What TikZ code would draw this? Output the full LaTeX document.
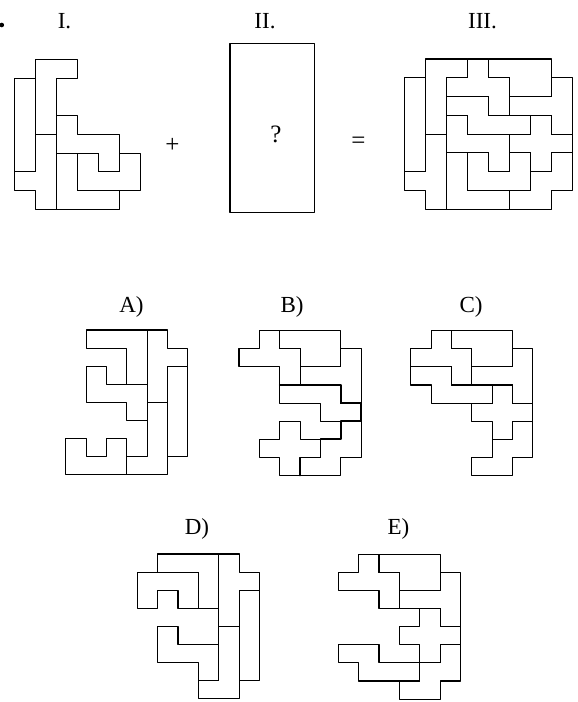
\documentclass[tikz,border=0pt]{standalone}
\usepackage{fontspec}
\setmainfont{Liberation Serif}

\begin{document}
\begin{tikzpicture}[
  x=1pt,
  y=-1pt,
  line cap=round,
  line join=round,
  piece/.style={draw, line width=1.1pt},
  heavy/.style={draw, line width=1.8pt},
  caption/.style={font=\fontsize{23}{27}\selectfont, anchor=base, inner sep=0pt},
  sign/.style={font=\fontsize{25}{29}\selectfont, inner sep=0pt}
]
  % Размеры клеток: верхний ряд и варианты ответа
  \def\cw{21}
  \def\ch{18.77}
  \def\ow{20.35}
  \def\oh{18.1}

  \useasboundingbox (0,0) rectangle (578,702);

  % Шесть фигур первой части
  \def\partsI{%
    \draw[piece] (0,1) -- (1,1) -- (1,6) -- (0,6) -- cycle;
    \draw[piece] (1,0) -- (3,0) -- (3,1) -- (2,1) -- (2,4) -- (1,4) -- cycle;
    \draw[piece] (1,4) -- (2,4) -- (2,8) -- (1,8) -- (1,7) -- (0,7) -- (0,6) -- (1,6) -- cycle;
    \draw[piece] (2,3) -- (3,3) -- (3,4) -- (5,4) -- (5,6) -- (4,6) -- (4,5) -- (2,5) -- cycle;
    \draw[piece] (3,5) -- (4,5) -- (4,6) -- (5,6) -- (5,5) -- (6,5) -- (6,7) -- (3,7) -- cycle;
    \draw[piece] (2,5) -- (3,5) -- (3,7) -- (5,7) -- (5,8) -- (2,8) -- cycle;}

  % Фигуры вариантов, в клетках варианта
  \def\partF{\draw[piece] (1,0) -- (2,0) -- (2,1) -- (3,1) -- (3,3) -- (2,3) -- (2,2) -- (0,2) -- (0,1) -- (1,1) -- cycle;}
  \def\partP{\draw[piece] (2,0) -- (5,0) -- (5,2) -- (3,2) -- (3,1) -- (2,1) -- cycle;}
  \def\partC{\draw[piece] (5,1) -- (6,1) -- (6,4) -- (5,4) -- (5,3) -- (3,3) -- (3,2) -- (5,2) -- cycle;}
  \def\partN{\draw[piece] (0,2) -- (2,2) -- (2,3) -- (4,3) -- (4,4) -- (1,4) -- (1,3) -- (0,3) -- cycle;}
  \def\partX{\draw[piece] (4,3) -- (5,3) -- (5,4) -- (6,4) -- (6,5) -- (5,5) -- (5,6) -- (4,6) -- (4,5) -- (3,5) -- (3,4) -- (4,4) -- cycle;}
  \def\partW{\draw[piece] (5,5) -- (6,5) -- (6,7) -- (5,7) -- (5,8) -- (3,8) -- (3,7) -- (4,7) -- (4,6) -- (5,6) -- cycle;}
  \def\partV{\draw[piece] (1,0) -- (4,0) -- (4,3) -- (3,3) -- (3,1) -- (1,1) -- cycle;}
  \def\partY{\draw[piece] (4,0) -- (5,0) -- (5,1) -- (6,1) -- (6,2) -- (5,2) -- (5,4) -- (4,4) -- cycle;}
  \def\partI{\draw[piece] (5,2) -- (6,2) -- (6,7) -- (5,7) -- cycle;}
  \def\partL{\draw[piece] (4,4) -- (5,4) -- (5,8) -- (3,8) -- (3,7) -- (4,7) -- cycle;}

  % Подписи верхнего ряда
  \fill (1.8,25) circle (2.3);
  \node[caption] (numI) at (64.5,28) {I.};
  \node[caption] (numII) at (265,28) {II.};
  \node[caption] (numIII) at (482.5,28) {III.};

  % Фигура I
  \begin{scope}[shift={(14.3,59.3)}, x=\cw pt, y=-\ch pt]
    \partsI
  \end{scope}

  \node[sign] (plus) at (172.3,145.7) {+};

  % Фигура II
  \draw[piece] (230,43.3) rectangle (314.3,212.3);
  \node[sign] (quest) at (276,134) {?};

  \node[sign] (equal) at (358.5,143) {=};

  % Фигура III
  \begin{scope}[shift={(404.3,59)}, x=\cw pt, y=-\ch pt]
    \partsI
    \begin{scope}[shift={(2,0)}]
      \partF \partP \partC \partN \partX \partW
    \end{scope}
  \end{scope}

  % Варианты ответа
  \node[caption] (optA) at (131.5,312) {A)};
  \node[caption] (optB) at (292,312) {B)};
  \node[caption] (optC) at (471,312) {C)};
  \node[caption] (optD) at (197,534) {D)};
  \node[caption] (optE) at (398.5,534) {E)};

  % A)
  \begin{scope}[shift={(65.7,330)}, x=\ow pt, y=-\oh pt]
    \partV
    \draw[piece] (1,2) -- (2,2) -- (2,3) -- (4,3) -- (4,5) -- (3,5) -- (3,4) -- (1,4) -- cycle;
    \partY \partI \partL
    \draw[piece] (0,6) -- (1,6) -- (1,7) -- (2,7) -- (2,6) -- (3,6) -- (3,8) -- (0,8) -- cycle;
  \end{scope}

  % B)
  \begin{scope}[shift={(239,330.7)}, x=\ow pt, y=-\oh pt]
    \partF \partP \partC \partW
    \draw[piece] (2,3) -- (5,3) -- (5,4) -- (6,4) -- (6,5) -- (4,5) -- (4,4) -- (2,4) -- cycle;
    \draw[piece] (2,5) -- (3,5) -- (3,6) -- (4,6) -- (4,7) -- (3,7) -- (3,8) -- (2,8) -- (2,7) -- (1,7) -- (1,6) -- (2,6) -- cycle;
    \draw[heavy] (2,3) -- (5,3) -- (5,4) -- (6,4) -- (6,5) -- (5,5) -- (5,6) -- (4,6) -- (4,7) -- (3,7) -- (3,8);
  \end{scope}

  % C)
  \begin{scope}[shift={(410.7,330.7)}, x=\ow pt, y=-\oh pt]
    \partF \partP \partC \partN \partX \partW
  \end{scope}

  % D)
  \begin{scope}[shift={(137.3,554)}, x=\ow pt, y=-\oh pt]
    \partV
    \draw[piece] (0,1) -- (3,1) -- (3,3) -- (2,3) -- (2,2) -- (1,2) -- (1,3) -- (0,3) -- cycle;
    \partY \partI \partL
    \draw[piece] (1,4) -- (2,4) -- (2,5) -- (4,5) -- (4,7) -- (3,7) -- (3,6) -- (1,6) -- cycle;
  \end{scope}

  % E)
  \begin{scope}[shift={(338.3,554.3)}, x=\ow pt, y=-\oh pt]
    \partF \partP \partC \partX \partW
    \draw[piece] (0,5) -- (2,5) -- (2,6) -- (4,6) -- (4,7) -- (1,7) -- (1,6) -- (0,6) -- cycle;
  \end{scope}
\end{tikzpicture}
\end{document}
